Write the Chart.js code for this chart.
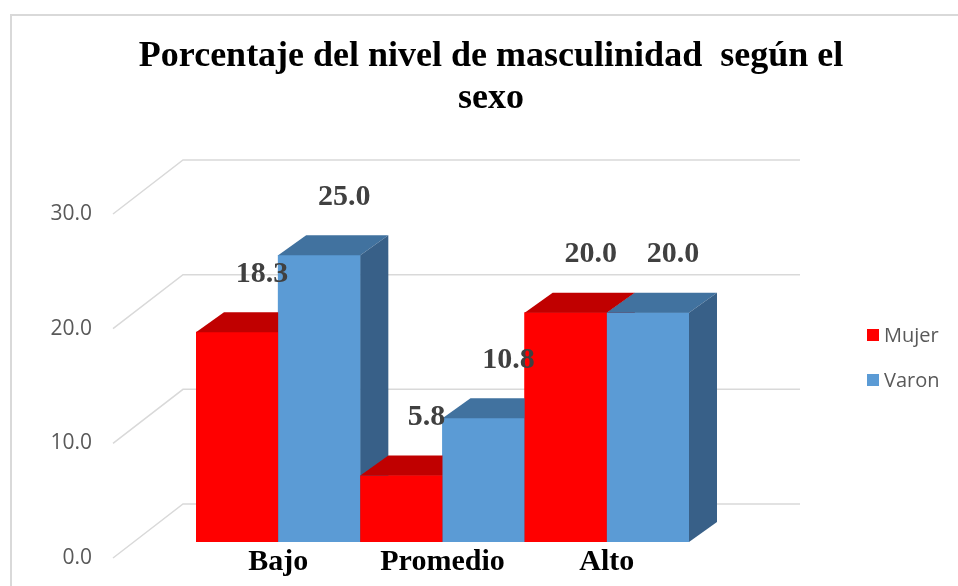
<!DOCTYPE html>
<html>
<head>
<meta charset="utf-8">
<script src="https://cdn.jsdelivr.net/npm/chart.js@4.4.0/dist/chart.umd.min.js"></script>
<style>
  html, body { margin: 0; padding: 0; background: #ffffff; }
  #wrap { width: 958px; height: 586px; position: relative; }
</style>
</head>
<body>
<div id="wrap"><canvas id="c" width="958" height="586"></canvas></div>
<script>
const categories = ['Bajo', 'Promedio', 'Alto'];
const seriesNames = ['Mujer', 'Varon'];
const mujerValues = [18.3, 5.8, 20.0];
const varonValues = [25.0, 10.8, 20.0];
const yTicks = [0, 10, 20, 30];
const titleLines = ['Porcentaje del nivel de masculinidad  según el', 'sexo'];

const faceColors = [
  { front: '#FF0000', top: '#C00000', side: '#A00000' },
  { front: '#5B9BD5', top: '#41729F', side: '#386088' }
];
const DEPTH_X = 28, DEPTH_Y = 20;

const framePlugin = {
  id: 'frame',
  beforeDraw(chart) {
    const ctx = chart.ctx;
    ctx.save();
    ctx.strokeStyle = '#D9D9D9';
    ctx.lineWidth = 2;
    ctx.beginPath();
    ctx.moveTo(11, 586);
    ctx.lineTo(11, 15);
    ctx.lineTo(958, 15);
    ctx.stroke();
    ctx.restore();
  }
};

const wallGridPlugin = {
  id: 'wallGrid',
  beforeDatasetsDraw(chart) {
    const ctx = chart.ctx;
    const ys = chart.scales.y;
    const area = chart.chartArea;
    ctx.save();
    ctx.strokeStyle = '#D9D9D9';
    ctx.lineWidth = 1.5;
    yTicks.forEach(v => {
      const p = ys.getPixelForValue(v);
      ctx.beginPath();
      ctx.moveTo(area.left - 83, p + 16);
      ctx.lineTo(area.left - 13, p - 38);
      ctx.lineTo(area.right + 111, p - 38);
      ctx.stroke();
    });
    ctx.restore();
  }
};

const bars3dPlugin = {
  id: 'bars3d',
  afterDatasetsDraw(chart) {
    const ctx = chart.ctx;
    const items = [];
    chart.data.datasets.forEach((ds, di) => {
      const meta = chart.getDatasetMeta(di);
      meta.data.forEach((bar, i) => {
        items.push({ bar, di, i, value: ds.data[i] });
      });
    });
    items.sort((a, b) => a.bar.x - b.bar.x);
    ctx.save();
    items.forEach(({ bar, di }) => {
      const c = faceColors[di];
      const w = bar.width;
      const left = bar.x - w / 2, right = bar.x + w / 2;
      const top = bar.y, base = bar.base;
      ctx.fillStyle = c.front;
      ctx.fillRect(left, top, w, base - top);
      ctx.fillStyle = c.top;
      ctx.beginPath();
      ctx.moveTo(left, top);
      ctx.lineTo(left + DEPTH_X, top - DEPTH_Y);
      ctx.lineTo(right + DEPTH_X, top - DEPTH_Y);
      ctx.lineTo(right, top);
      ctx.closePath();
      ctx.fill();
      ctx.fillStyle = c.side;
      ctx.beginPath();
      ctx.moveTo(right, top);
      ctx.lineTo(right + DEPTH_X, top - DEPTH_Y);
      ctx.lineTo(right + DEPTH_X, base - DEPTH_Y);
      ctx.lineTo(right, base);
      ctx.closePath();
      ctx.fill();
    });
    ctx.fillStyle = '#404040';
    ctx.font = 'bold 30px "Liberation Serif", "Times New Roman", serif';
    ctx.textAlign = 'center';
    ctx.textBaseline = 'middle';
    items.forEach(({ bar, value }) => {
      ctx.fillText(value.toFixed(1), bar.x + 25, bar.y - 58);
    });
    ctx.restore();
  }
};

const legendPlugin = {
  id: 'customLegend',
  afterDraw(chart) {
    const ctx = chart.ctx;
    ctx.save();
    ctx.font = '20px "Open Sans", sans-serif';
    ctx.textBaseline = 'middle';
    ctx.textAlign = 'left';
    chart.data.datasets.forEach((ds, di) => {
      const cy = 335 + di * 45;
      ctx.fillStyle = ds.backgroundColor;
      ctx.fillRect(867, cy - 6, 12, 12);
      ctx.fillStyle = '#595959';
      ctx.fillText(ds.label, 884, cy + 1);
    });
    ctx.restore();
  }
};

new Chart(document.getElementById('c'), {
  type: 'bar',
  data: {
    labels: categories,
    datasets: [
      { label: seriesNames[0], data: mujerValues, backgroundColor: faceColors[0].front, borderWidth: 0 },
      { label: seriesNames[1], data: varonValues, backgroundColor: faceColors[1].front, borderWidth: 0 }
    ]
  },
  options: {
    responsive: false,
    animation: false,
    devicePixelRatio: 1,
    layout: { padding: { left: 24, right: 0, top: 0, bottom: 0 } },
    plugins: {
      legend: { display: false },
      tooltip: { enabled: false },
      title: {
        display: true,
        text: titleLines,
        color: '#000000',
        font: { family: '"Liberation Serif", "Times New Roman", serif', size: 36, weight: 'bold', lineHeight: 1.167 },
        padding: { top: 36, bottom: 78 }
      }
    },
    datasets: {
      bar: { categoryPercentage: 1.0, barPercentage: 1.0 }
    },
    scales: {
      x: {
        grid: { display: false, drawTicks: false },
        border: { display: false },
        ticks: {
          color: '#000000',
          padding: 2,
          font: { family: '"Liberation Serif", "Times New Roman", serif', size: 30, weight: 'bold' }
        },
        afterFit(s) { s.height = 44; }
      },
      y: {
        min: 0,
        max: 30,
        weight: 10,
        afterBuildTicks(s) { s.ticks = yTicks.map(v => ({ value: v })); },
        grid: { display: false, drawTicks: false, tickLength: 0 },
        border: { display: false },
        ticks: {
          color: '#595959',
          padding: 8,
          labelOffset: 16,
          font: { family: '"Open Sans", sans-serif', size: 21 },
          callback: v => Number(v).toFixed(1)
        },
        afterFit(s) { s.width = 76; }
      },
      yGap: {
        position: 'left',
        weight: 0,
        display: true,
        grid: { display: false, drawTicks: false },
        border: { display: false },
        ticks: { display: false },
        afterFit(s) { s.width = 96; }
      },
      yRight: {
        position: 'right',
        display: true,
        grid: { display: false, drawTicks: false },
        border: { display: false },
        ticks: { display: false },
        afterFit(s) { s.width = 269; }
      }
    }
  },
  plugins: [framePlugin, wallGridPlugin, bars3dPlugin, legendPlugin]
});
</script>
</body>
</html>
